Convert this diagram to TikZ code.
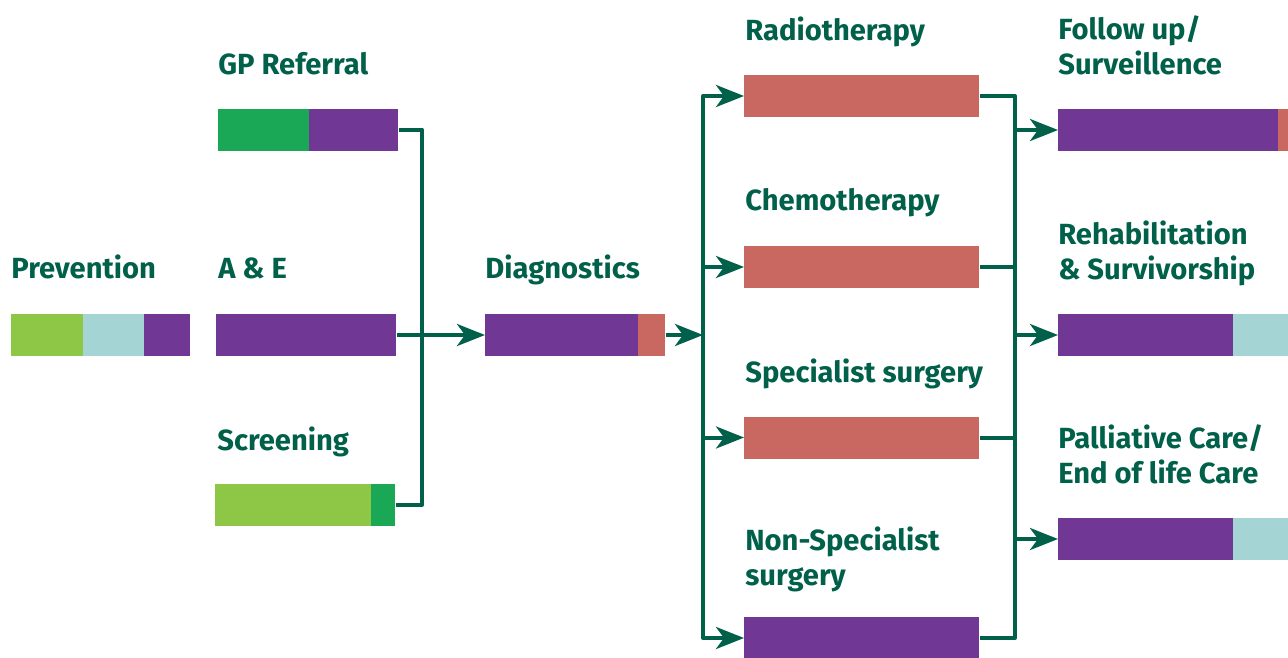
\documentclass[tikz,border=0pt]{standalone}
\usepackage{fontspec}
\setmainfont{Fira Sans}
\usetikzlibrary{arrows.meta}
\definecolor{pathgreen}{RGB}{0,96,74}
\definecolor{barpurple}{RGB}{112,56,148}
\definecolor{barred}{RGB}{200,104,96}
\definecolor{bargreen}{RGB}{26,168,86}
\definecolor{barlime}{RGB}{142,198,70}
\definecolor{barteal}{RGB}{164,212,212}
\tikzstyle{seg}=[draw=none,inner sep=0pt,minimum height=0.84cm,anchor=west]
\tikzstyle{lbl}=[inner sep=0pt,anchor=base west,align=left,text=pathgreen,font=\bfseries\fontsize{16.6}{19.4}\selectfont]
\tikzstyle{link}=[draw=pathgreen,line width=0.08cm,line join=round]

\begin{document}
\begin{tikzpicture}[x=0.02cm,y=-0.02cm,>={Stealth[length=0.56cm,width=0.44cm,inset=0.16cm]}]
	\useasboundingbox (0,0) rectangle (1288,657);
	% bars, one node per coloured part
	\foreach \pos/\segw/\col/\name in {{(11,335)/72/barlime/prevA}, {(83,335)/61/barteal/prevB},
                            {(144,335)/46/barpurple/prev}, {(218,129.5)/91/bargreen/gpA},
                            {(309,129.5)/89/barpurple/gp}, {(216,335)/180/barpurple/ae},
                            {(215,505)/156/barlime/scrA}, {(371,505)/24/bargreen/scr},
                            {(485,335)/153/barpurple/diagA}, {(638,335)/27/barred/diag},
                            {(744,96)/235/barred/radio}, {(744,267)/235/barred/chemo},
                            {(744,437.5)/235/barred/spec}, {(744,638)/235/barpurple/nonspec},
                            {(1058,130)/220/barpurple/fupA}, {(1278,130)/10/barred/fup},
                            {(1058,335)/175/barpurple/rehA}, {(1233,335)/55/barteal/reh},
                            {(1058,539)/175/barpurple/palA}, {(1233,539)/55/barteal/pal}}
        \node[seg,fill=\col,minimum width=\segw*0.02cm] (\name) at \pos {};

	% labels (base = last line)
	\foreach \pos/\txt/\name in {{(11,278)/Prevention/lprev}, {(218,74)/GP Referral/lgp},
                            {(218,278)/A \& E/lae}, {(217,450)/Screening/lscr},
                            {(485,278)/Diagnostics/ldiag}, {(745,40)/Radiotherapy/lradio},
                            {(745,210)/Chemotherapy/lchemo}, {(745,382)/Specialist surgery/lspec},
                            {(745,585)/{Non-Specialist\\surgery}/lnonspec},
                            {(1058,74)/{Follow up/\\Surveillence}/lfup},
                            {(1058,279)/{Rehabilitation\\\& Survivorship}/lreh},
                            {(1058,483)/{Palliative Care/\\End of life Care}/lpal}}
        \node[lbl] (\name) at \pos {\txt};

	\coordinate (jl) at (422,335);
	\coordinate (jm) at (703,335);
	\coordinate (jr) at (1015,335);

	% routes
	\draw[link] (gp.east) -| (jl) |- (scr.east);
	\draw[link,->] (ae.east) -- (diagA.west);
	\draw[link,->] (diag.east) -- (jm);
	\draw[link,->] (jm) |- (radio.west);
	\draw[link,->] (jm) |- (nonspec.west);
	\foreach \dest in {chemo, spec}
        \draw[link,->] (\dest.west -| jm) -- (\dest.west);
	\draw[link] (radio.east) -| (jr) |- (nonspec.east);
	\foreach \source in {chemo, spec}
        \draw[link] (\source.east) -- (\source.east -| jr);
	\foreach \dest in {fupA, rehA, palA}
        \draw[link,->] (\dest.west -| jr) -- (\dest.west);
\end{tikzpicture}
\end{document}
